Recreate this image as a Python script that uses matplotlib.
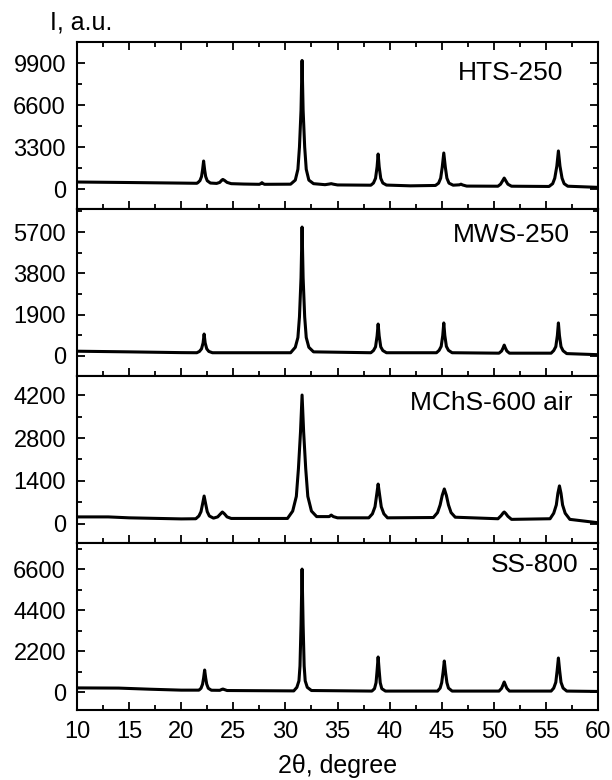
import matplotlib
matplotlib.use("Agg")
import matplotlib.pyplot as plt
from matplotlib.ticker import MultipleLocator

plt.rcParams['font.family'] = ['Liberation Sans', 'DejaVu Sans']

# XRD patterns: 2theta (deg) and intensity (a.u.)
hts_x = [10, 15, 20, 21.5, 21.6, 21.8, 21.95, 22.05, 22.15, 22.25, 22.35, 22.5, 22.8,
         23.4, 23.7, 23.9, 24.0, 24.15, 24.4, 24.8,
         26, 27.5, 27.65, 27.75, 27.85, 28.0,
         30.5, 30.95, 31.2, 31.35, 31.5, 31.6, 31.7, 31.85, 32.0, 32.25, 32.7,
         33.8, 34.2, 34.4, 34.6, 35.0,
         38.2, 38.45, 38.65, 38.8, 38.9, 39.0, 39.15, 39.35, 39.7,
         42, 44.4, 44.7, 44.9, 45.05, 45.2, 45.35, 45.5, 45.7, 46.1,
         46.7, 46.85, 47.0, 47.4,
         50.4, 50.65, 50.85, 51.0, 51.15, 51.35, 51.7,
         55.3, 55.65, 55.85, 56.05, 56.2, 56.35, 56.55, 56.75, 57.1, 60]
hts_y = [550, 510, 465, 450, 500, 660, 975, 1500, 2200, 1500, 975, 650, 470,
         440, 520, 700, 750, 680, 520, 420,
         390, 370, 430, 500, 430, 370,
         380, 700, 1550, 3300, 6200, 10100, 6200, 3300, 1550, 700, 420,
         340, 390, 420, 380, 320,
         300, 470, 840, 1750, 2750, 1750, 840, 470, 310,
         250, 280, 460, 850, 1700, 2830, 1700, 850, 460, 300,
         330, 380, 320, 230,
         220, 380, 650, 860, 650, 380, 220,
         200, 420, 850, 1800, 2990, 1800, 850, 420, 220, 130]

mws_x = [10, 15, 20, 21.5, 21.75, 21.95, 22.1, 22.2, 22.3, 22.45, 22.65, 23.0,
         30.5, 30.95, 31.2, 31.35, 31.5, 31.6, 31.7, 31.85, 32.0, 32.25, 32.7,
         38.2, 38.45, 38.65, 38.8, 38.9, 39.0, 39.15, 39.35, 39.7,
         44.5, 44.75, 44.95, 45.1, 45.2, 45.3, 45.45, 45.65, 46.0,
         50.5, 50.75, 50.9, 51.0, 51.1, 51.25, 51.5,
         55.5, 55.75, 55.95, 56.1, 56.2, 56.3, 56.45, 56.65, 57.0, 60]
mws_y = [220, 190, 155, 150, 210, 330, 600, 1010, 600, 330, 210, 150,
         150, 400, 850, 1800, 3600, 5930, 3600, 1800, 850, 400, 190,
         150, 250, 420, 920, 1470, 920, 420, 250, 150,
         150, 260, 440, 940, 1520, 940, 440, 260, 150,
         130, 230, 380, 500, 380, 230, 130,
         130, 250, 430, 940, 1520, 940, 430, 240, 110, 60]

mchs_x = [10, 13, 15, 20, 21.4, 21.7, 21.9, 22.05, 22.2, 22.35, 22.5, 22.7, 23.1,
          23.5, 23.75, 23.95, 24.15, 24.4, 24.8,
          30.2, 30.7, 31.05, 31.25, 31.45, 31.6, 31.75, 31.95, 32.15, 32.5, 33.0,
          34.2, 34.4, 34.6, 35.0,
          38.0, 38.35, 38.6, 38.78, 38.9, 39.02, 39.2, 39.45, 39.8,
          44.2, 44.6, 44.85, 45.05, 45.25, 45.45, 45.65, 45.9, 46.3,
          50.4, 50.7, 50.9, 51.0, 51.15, 51.35, 51.7,
          55.4, 55.75, 56.0, 56.15, 56.3, 56.45, 56.6, 56.85, 57.3, 60]
mchs_y = [230, 230, 200, 165, 170, 260, 400, 650, 910, 650, 400, 260, 190,
          230, 320, 390, 330, 230, 180,
          180, 420, 900, 1800, 3000, 4200, 3000, 1800, 900, 420, 240,
          240, 290, 240, 200,
          200, 330, 560, 1000, 1300, 1000, 560, 330, 200,
          210, 370, 620, 930, 1140, 930, 620, 370, 220,
          170, 270, 360, 390, 340, 250, 150,
          170, 350, 620, 1000, 1240, 1000, 620, 350, 150, 40]

ss_x = [10, 14, 17, 20, 21.7, 21.9, 22.05, 22.15, 22.25, 22.35, 22.45, 22.6, 22.9,
        23.7, 23.9, 24.0, 24.15, 24.4,
        30.8, 31.1, 31.3, 31.4, 31.5, 31.6, 31.7, 31.8, 31.9, 32.1, 32.5,
        38.3, 38.55, 38.7, 38.8, 38.9, 39.0, 39.1, 39.25, 39.6,
        44.6, 44.85, 45.0, 45.13, 45.25, 45.37, 45.5, 45.65, 46.0,
        50.5, 50.75, 50.9, 51.0, 51.1, 51.25, 51.5,
        55.5, 55.75, 55.95, 56.08, 56.2, 56.32, 56.45, 56.65, 57.0, 60]
ss_y = [220, 210, 150, 100, 100, 200, 420, 750, 1180, 750, 420, 200, 95,
        90, 140, 160, 130, 80,
        60, 250, 600, 1400, 3600, 6600, 3600, 1400, 600, 250, 80,
        50, 180, 500, 1150, 1880, 1150, 500, 180, 50,
        50, 210, 500, 1050, 1665, 1050, 500, 210, 50,
        50, 200, 400, 537, 400, 200, 50,
        50, 210, 520, 1150, 1825, 1150, 520, 210, 50, 30]

names = ['HTS-250', 'MWS-250', 'MChS-600 air', 'SS-800']
xs = [hts_x, mws_x, mchs_x, ss_x]
ys = [hts_y, mws_y, mchs_y, ss_y]
y_steps = [3300, 1900, 1400, 2200]
y_limits = [(-1570, 11550), (-920, 6760), (-620, 4820), (-966, 8000)]

# sample name placement (axes fraction)
name_pos = [(0.933, 0.814), (0.946, 0.844), (0.952, 0.838), (0.962, 0.868)]

fig = plt.figure(figsize=(6.12, 7.80), dpi=100)

left, width = 77 / 612, 521 / 612
panel_h = 167 / 780
tops = [42, 209, 376, 543]

for i in range(4):
    bottom = 1 - (tops[i] + 167) / 780
    ax = fig.add_axes([left, bottom, width, panel_h])
    ax.plot(xs[i], ys[i], color='black', lw=2.2, solid_joinstyle='round')
    ax.set_xlim(10, 60)
    ax.set_ylim(*y_limits[i])
    ax.xaxis.set_major_locator(MultipleLocator(5))
    ax.xaxis.set_minor_locator(MultipleLocator(2.5))
    ax.yaxis.set_minor_locator(MultipleLocator(y_steps[i] / 2))
    ax.set_yticks([0, y_steps[i], 2 * y_steps[i], 3 * y_steps[i]])
    ax.tick_params(which='both', direction='in', right=True, top=(i == 0),
                   width=1.3, labelsize=17, pad=8)
    ax.tick_params(which='major', length=6)
    ax.tick_params(which='minor', length=3.5)
    for s in ax.spines.values():
        s.set_linewidth(1.5)
    if i < 3:
        ax.tick_params(labelbottom=False)
    ax.text(name_pos[i][0], name_pos[i][1], names[i], transform=ax.transAxes,
            ha='right', va='center', fontsize=19)
    if i == 0:
        ax.text(-0.052, 1.115, 'I, a.u.', transform=ax.transAxes, ha='left',
                va='center', fontsize=18)
    if i == 3:
        ax.set_xlabel('2\u03b8, degree', fontsize=18, labelpad=8)

fig.savefig('out.png', dpi=100)
